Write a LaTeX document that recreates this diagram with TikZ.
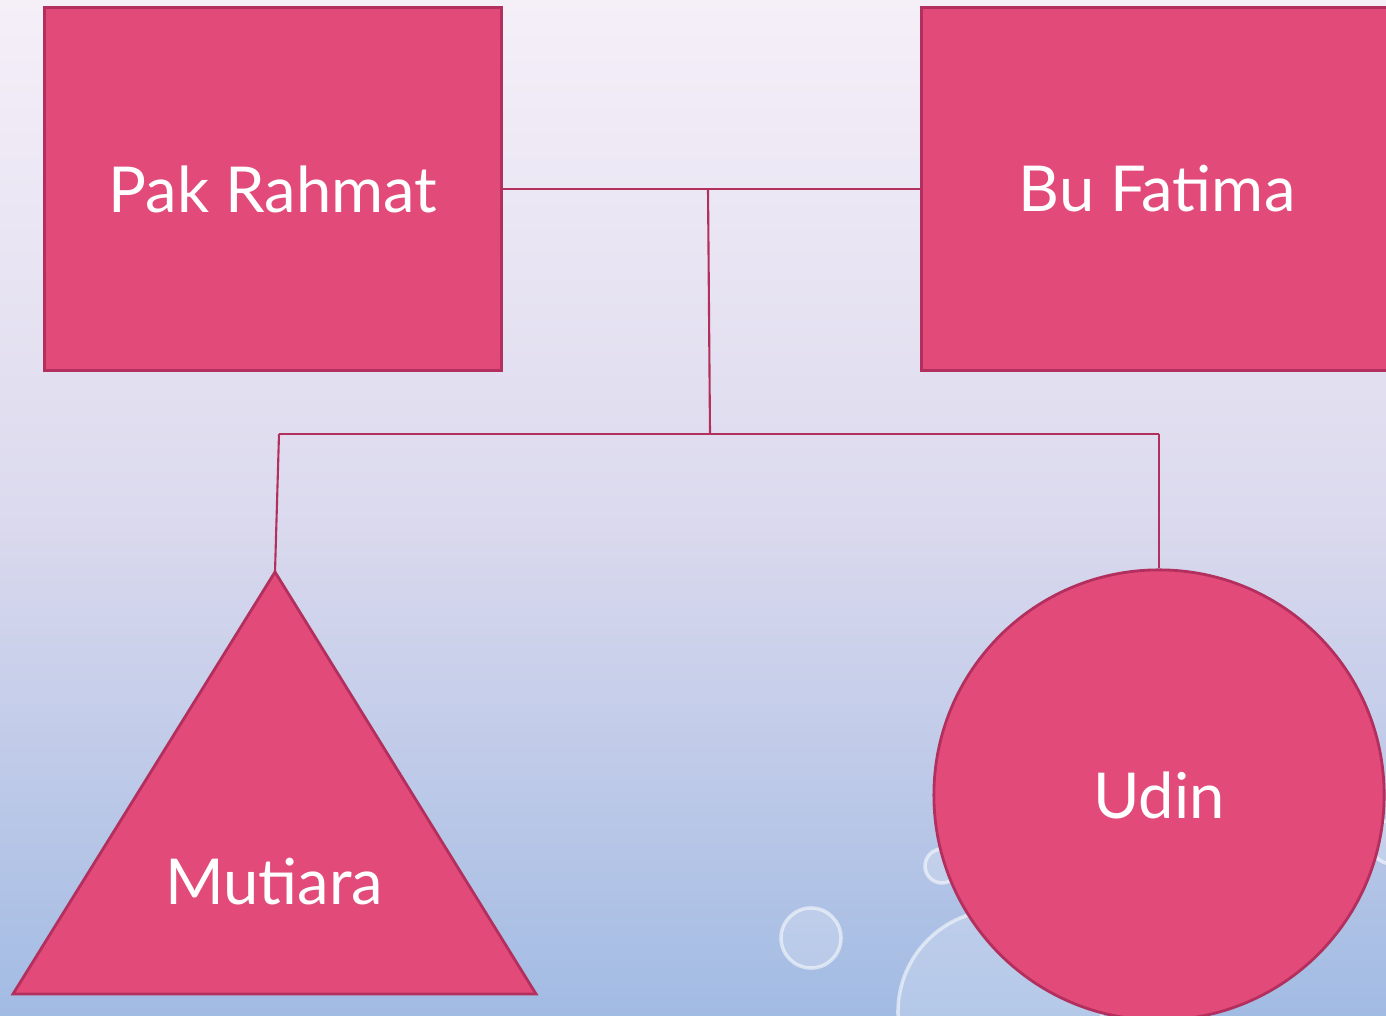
\documentclass[tikz,border=0pt]{standalone}
\usepackage{fontspec}
\setmainfont{Lato}
\usepackage{tikz}

\definecolor{rosefill}{HTML}{E24A7A}
\definecolor{roseline}{HTML}{B3305E}
\definecolor{bgtop}{HTML}{F5EFF8}
\definecolor{bgmid}{HTML}{DCDAEE}
\definecolor{bgbot}{HTML}{A2BBE3}

\tikzset{
  person/.style={draw=roseline, fill=rosefill, line width=0.8pt, text=white,
    font=\fontsize{18}{21}\selectfont},
  link/.style={draw=roseline, line width=0.6pt},
  bubble/.style={fill=white, fill opacity=0.2, draw=white, draw opacity=0.55, line width=1pt}
}

\begin{document}
\begin{tikzpicture}[x=0.01cm, y=-0.01cm]
\useasboundingbox (0,0) rectangle (1386,1016);
\shade[top color=bgtop, bottom color=bgbot, middle color=bgmid] (0,0) rectangle (1386,1016);

% bubbles
\path[bubble] (811,938) circle (0.30cm);
\path[bubble] (942,866) circle (0.17cm);
\path[bubble] (1000,1012) circle (1.02cm);
\path[bubble] (1392,842) circle (0.22cm);

% parents
\node[person, minimum width=4.56cm, minimum height=3.62cm] (rahmat) at (273,189) {Pak Rahmat};
\node[person, minimum width=4.70cm, minimum height=3.62cm] (fatima) at (1157,189) {Bu Fatima};

% children
\coordinate (apex) at (275,572);
\draw[person] (apex) -- (536,994) -- (13,994) -- cycle;
\node[text=white, font=\fontsize{18}{21}\selectfont] (mutiara) at (274,882) {Mutiara};
\node[person, circle, minimum size=4.50cm] (udin) at (1159,795) {Udin};

\coordinate (marry) at (708,189);
\coordinate (split) at (710,434);
\coordinate (leftEnd) at (279,434);
\coordinate (rightEnd) at (1159,434);

\draw[link] (rahmat.east) -- (fatima.west);
\draw[link] (marry) -- (split);
\draw[link] (leftEnd) -- (rightEnd);
\draw[link] (leftEnd) -- (apex);
\draw[link] (rightEnd) -- (udin.north);

\end{tikzpicture}
\end{document}
